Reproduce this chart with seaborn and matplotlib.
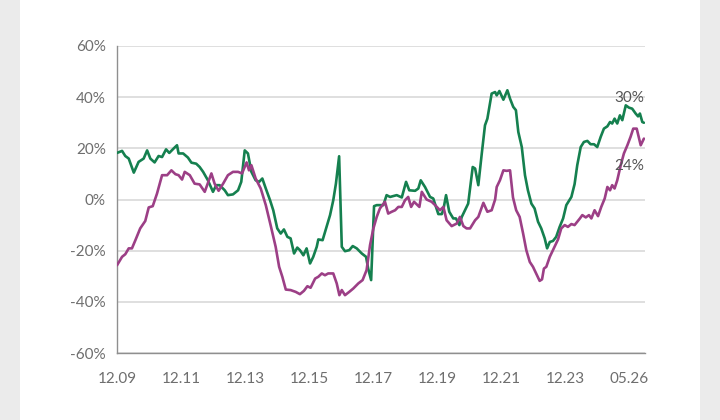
import numpy as np
import pandas as pd
import matplotlib
matplotlib.use("Agg")
import matplotlib.pyplot as plt
import seaborn as sns
from matplotlib.patches import Rectangle

# months since 12.09 for each traced point, and the values in %
green_x = [0, 1.9, 3.1, 4.4, 6.3, 8.1, 10.0, 11.3, 12.5, 14.1, 15.6, 16.9, 18.4, 19.6, 21.3, 22.5,
           23.1, 24.8, 26.6, 27.9, 29.7, 31.0, 32.3, 34.1, 36.0, 37.2, 38.5, 40.4, 41.6, 43.5, 45.4,
           46.6, 47.9, 49.1, 50.4, 52.0, 53.3, 54.5, 55.8, 57.4, 58.6, 60.1, 61.4, 62.6, 63.9, 65.1,
           66.4, 67.6, 68.6, 69.9, 71.1, 72.4, 73.6, 74.9, 75.5, 77.1, 78.4, 79.9, 81.1, 82.1, 83.3,
           84.3, 85.5, 87.1, 88.4, 89.9, 91.8, 93.4, 94.2, 95.3, 96.4, 97.4, 99.9, 101.1, 102.4,
           104.9, 106.8, 108.4, 109.6, 111.8, 113.0, 113.9, 115.5, 117.4, 118.6, 120.5, 121.8,
           122.4, 123.4, 124.6, 126.1, 127.1, 128.4, 129.3, 130.5, 131.7, 133.4, 134.3, 135.5,
           136.8, 138.0, 138.9, 140.5, 141.8, 142.4, 143.4, 144.9, 146.4, 147.4, 148.6, 149.6,
           150.5, 151.8, 153.0, 154.1, 155.4, 156.6, 157.9, 159.1, 160.4, 161.3, 162.3, 163.5,
           164.7, 166.0, 167.3, 168.5, 170.4, 171.6, 172.6, 173.9, 175.1, 176.4, 177.6, 178.9,
           180.1, 181.4, 182.6, 183.9, 184.9, 185.7, 186.6, 187.6, 188.6, 189.5, 190.8, 192.0,
           193.2, 194.5, 195.4, 196.1, 197.0, 197.6]
green_y = [18.2, 19.0, 17.0, 16.0, 10.5, 14.7, 16.0, 19.2, 16.0, 14.5, 17.0, 16.6, 19.6, 18.2, 20.0, 21.2,
           18.0, 18.0, 16.4, 14.4, 14.0, 12.7, 10.8, 7.5, 3.0, 5.6, 5.6, 3.6, 1.7, 2.0, 3.6,
           6.9, 19.2, 18.0, 10.8, 7.5, 6.9, 8.2, 4.3, -0.3, -4.2, -11.3, -13.3, -11.7, -14.6, -15.2,
           -21.1, -18.8, -19.8, -21.8, -19.1, -25.0, -22.4, -18.5, -15.6, -15.9, -11.3, -6.1, -0.3, 6.2, 16.9,
           -18.5, -20.2, -19.8, -18.2, -19.1, -21.1, -22.4, -27.0, -31.5, -2.6, -2.2, -2.2, 1.7, 1.0,
           1.7, 0.8, 6.9, 3.6, 3.4, 4.3, 7.5, 4.9, 1.0, 0.4, -5.7, -5.7,
           -3.9, 1.7, -4.8, -7.4, -7.4, -10.0, -6.8, -4.2, -1.6, 12.7, 12.1, 5.6,
           18.0, 29.0, 31.6, 41.4, 42.0, 40.7, 42.4, 39.0, 42.7, 39.4, 36.2, 34.9,
           26.4, 20.5, 9.5, 3.6, -1.6, -3.5, -8.7, -11.3, -15.2, -19.1, -16.6, -16.2,
           -14.6, -10.7, -7.4, -2.2, 1.0, 6.0, 13.4, 20.5, 22.5, 22.9, 21.6, 21.6,
           20.5, 24.5, 27.7, 28.6, 30.3, 29.7, 31.6, 29.7, 32.9, 31.0, 36.8, 35.9,
           35.5, 33.6, 32.5, 33.6, 30.3, 30.0]

purple_x = [0, 1.9, 3.1, 4.4, 5.6, 6.9, 8.7, 10.6, 11.9, 13.4, 15.0, 16.9, 18.8, 20.4, 21.9, 23.1,
            24.4, 25.4, 27.3, 29.1, 31.0, 32.9, 35.4, 36.6, 38.1, 39.8, 41.6, 43.5, 45.4, 46.9,
            48.6, 49.5, 50.4, 52.0, 53.9, 55.8, 57.6, 59.5, 60.8, 62.0, 63.3, 65.1, 67.0, 68.6,
            70.1, 71.4, 72.6, 74.3, 75.5, 76.8, 78.0, 79.2, 81.1, 82.4, 83.4, 84.3, 85.5, 87.1,
            88.6, 90.5, 92.1, 93.6, 94.9, 96.1, 97.4, 98.6, 100.5, 101.7, 103.0, 104.3, 105.5,
            106.8, 108.0, 109.2, 110.3, 111.4, 113.4, 114.3, 116.1, 118.0, 119.3, 121.1, 122.4,
            123.6, 125.5, 127.4, 128.6, 129.9, 131.1, 132.4, 134.3, 135.5, 137.4, 138.9, 140.5,
            141.8, 142.4, 143.6, 144.9, 146.1, 147.4, 148.5, 149.7, 151.0, 152.3, 153.5, 154.8,
            156.0, 157.2, 158.5, 159.4, 160.1, 161.0, 162.3, 164.1, 165.4, 166.6, 167.9, 169.1,
            170.4, 171.6, 172.6, 173.6, 174.5, 175.8, 177.0, 177.9, 179.1, 180.4, 181.6, 182.9,
            183.9, 184.9, 185.7, 186.6, 187.6, 188.9, 190.1, 191.4, 192.6, 193.6, 194.9, 196.4,
            197.6]
purple_y = [-25.7, -22.4, -21.4, -19.1, -19.1, -15.9, -11.3, -8.4, -3.1, -2.6, 2.3, 9.5, 9.5, 11.4, 9.9, 9.5,
            7.8, 10.8, 9.5, 6.2, 5.9, 3.0, 10.2, 6.2, 3.4, 6.2, 9.5, 10.8, 10.8, 10.2,
            14.5, 11.4, 13.4, 8.2, 4.3, -2.2, -10.0, -18.5, -26.3, -30.2, -35.2, -35.4, -36.1, -37.0,
            -35.7, -33.9, -34.5, -30.9, -30.2, -28.9, -29.6, -28.9, -28.9, -32.8, -37.4, -35.4, -37.4, -36.1,
            -34.8, -32.8, -31.5, -27.6, -17.8, -11.5, -6.8, -3.5, -0.9, -5.5, -4.8, -4.2, -2.9,
            -2.9, -0.3, 1.0, -2.9, -0.9, -2.9, 3.0, 0.0, -0.9, -2.2, -4.2, -2.9,
            -8.1, -10.4, -9.4, -6.8, -10.4, -11.3, -11.3, -8.1, -6.8, -1.3, -4.8, -4.2,
            0.0, 4.9, 7.5, 11.4, 11.2, 11.4, 0.8, -4.2, -6.8, -13.3, -19.8, -24.4,
            -26.3, -28.9, -31.8, -31.2, -27.0, -26.3, -22.4, -18.5, -15.6, -11.3, -10.0, -10.7,
            -9.6, -10.0, -8.7, -7.4, -6.1, -7.0, -6.1, -7.4, -4.2, -6.5, -2.9, 0.4,
            4.9, 3.6, 5.6, 4.3, 7.5, 13.4, 18.0, 21.2, 24.5, 27.7, 27.7, 21.2,
            23.8]

tick_pos = [0, 24, 48, 72, 96, 120, 144, 168, 192]
tick_labels = ["12.09", "12.11", "12.13", "12.15", "12.17", "12.19", "12.21", "12.23", "05.26"]
end_labels = ["30%", "24%"]

green = "#15804f"
purple = "#9c3f86"
grey_txt = "#6e6e6e"

sns.set_style("white")
plt.rcParams['font.family'] = ['Lato', 'DejaVu Sans']

fig = plt.figure(figsize=(7.2, 4.2), dpi=100, facecolor="#ebebeb")
# white card behind the chart
fig.add_artist(Rectangle((20 / 720, 0), 680 / 720, 1, transform=fig.transFigure,
                         facecolor="white", edgecolor="none", zorder=-10))
ax = fig.add_axes([0.1625, 0.1595, 0.7333, 0.731])
ax.set_facecolor("none")

df_g = pd.DataFrame({"x": green_x, "y": green_y})
df_p = pd.DataFrame({"x": purple_x, "y": purple_y})
sns.lineplot(data=df_g, x="x", y="y", color=green, lw=1.9, ax=ax, zorder=3)
sns.lineplot(data=df_p, x="x", y="y", color=purple, lw=1.9, ax=ax, zorder=3)

ax.set_xlim(0, 198)
ax.set_ylim(-60, 60)
ax.set_xticks(tick_pos)
ax.set_xticklabels(tick_labels)
ax.set_yticks(np.arange(-60, 61, 20))
ax.set_yticklabels([f"{v}%" for v in range(-60, 61, 20)])
ax.set_xlabel("")
ax.set_ylabel("")

ax.grid(axis="y", color="#d9d9d9", lw=1.2, zorder=0)
for s in ["top", "right"]:
    ax.spines[s].set_visible(False)
for s in ["left", "bottom"]:
    ax.spines[s].set_color("#8f8f8f")
    ax.spines[s].set_linewidth(1.0)
ax.tick_params(axis="x", direction="in", length=5, color="#8f8f8f", pad=14,
               labelsize=11, labelcolor=grey_txt)
ax.tick_params(axis="y", direction="in", length=0, pad=8,
               labelsize=11, labelcolor=grey_txt)

ax.text(192, 39.6, end_labels[0], ha="center", va="center", fontsize=11, color="#555555")
ax.text(192, 13.0, end_labels[1], ha="center", va="center", fontsize=11, color="#555555")

fig.savefig("out.png", dpi=100, facecolor=fig.get_facecolor())
